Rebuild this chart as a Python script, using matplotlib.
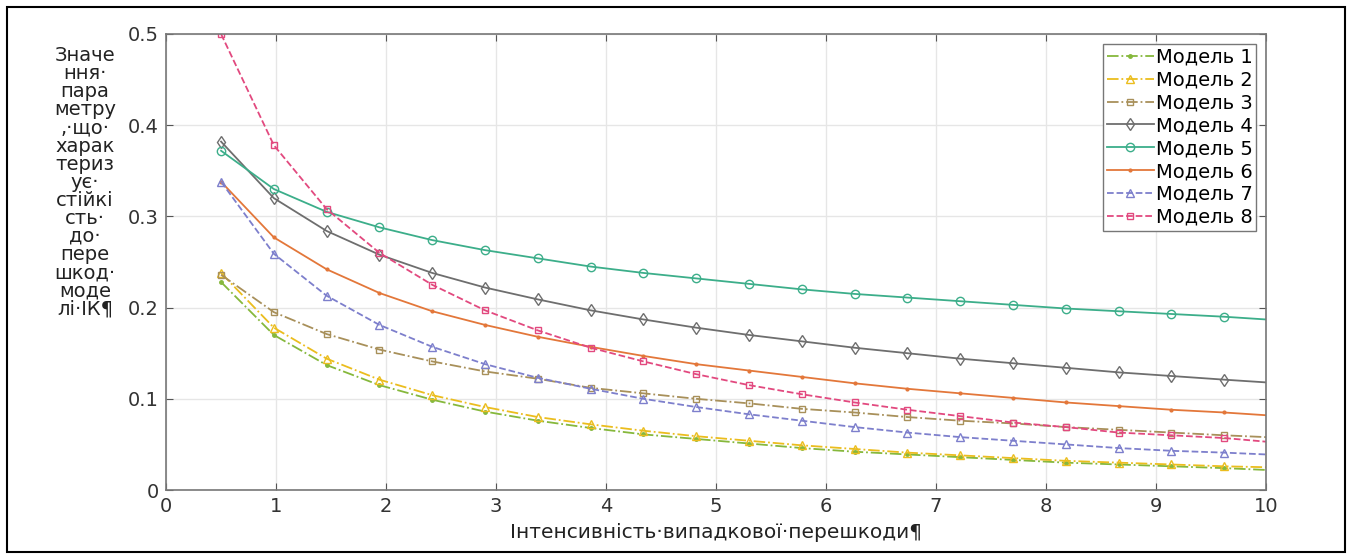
import numpy as np
import matplotlib
matplotlib.use("Agg")
import matplotlib.pyplot as plt
from matplotlib.patches import Rectangle

plt.rcParams['font.family'] = ['DejaVu Sans']

# x positions of the sampled points (markers at all but the last one)
x = [0.5, 0.98, 1.46, 1.94, 2.42, 2.9, 3.38, 3.86, 4.34, 4.82, 5.3,
     5.78, 6.26, 6.74, 7.22, 7.7, 8.18, 8.66, 9.14, 9.62, 10.0]

m1 = [0.228, 0.170, 0.137, 0.115, 0.099, 0.086, 0.076, 0.068, 0.061, 0.056, 0.051,
      0.046, 0.042, 0.039, 0.036, 0.033, 0.030, 0.028, 0.026, 0.024, 0.022]
m2 = [0.238, 0.178, 0.144, 0.121, 0.104, 0.091, 0.080, 0.072, 0.065, 0.059, 0.054,
      0.049, 0.045, 0.041, 0.038, 0.035, 0.032, 0.030, 0.028, 0.026, 0.025]
m3 = [0.236, 0.195, 0.171, 0.154, 0.141, 0.130, 0.122, 0.112, 0.106, 0.100, 0.095,
      0.089, 0.085, 0.080, 0.076, 0.073, 0.069, 0.066, 0.063, 0.060, 0.058]
m4 = [0.382, 0.320, 0.284, 0.258, 0.238, 0.222, 0.209, 0.197, 0.187, 0.178, 0.170,
      0.163, 0.156, 0.150, 0.144, 0.139, 0.134, 0.129, 0.125, 0.121, 0.118]
m5 = [0.372, 0.330, 0.305, 0.288, 0.274, 0.263, 0.254, 0.245, 0.238, 0.232, 0.226,
      0.220, 0.215, 0.211, 0.207, 0.203, 0.199, 0.196, 0.193, 0.190, 0.187]
m6 = [0.338, 0.277, 0.242, 0.216, 0.196, 0.181, 0.168, 0.157, 0.147, 0.138, 0.131,
      0.124, 0.117, 0.111, 0.106, 0.101, 0.096, 0.092, 0.088, 0.085, 0.082]
m7 = [0.338, 0.259, 0.213, 0.181, 0.157, 0.138, 0.123, 0.111, 0.100, 0.091, 0.083,
      0.076, 0.069, 0.063, 0.058, 0.054, 0.050, 0.046, 0.043, 0.041, 0.039]
m8 = [0.500, 0.378, 0.308, 0.260, 0.225, 0.197, 0.175, 0.156, 0.141, 0.127, 0.115,
      0.105, 0.096, 0.088, 0.081, 0.074, 0.069, 0.063, 0.060, 0.057, 0.053]

labels = ["Модель 1", "Модель 2", "Модель 3", "Модель 4",
          "Модель 5", "Модель 6", "Модель 7", "Модель 8"]

styles = [
    dict(color="#86b83c", ls="-.", marker=".", ms=5),
    dict(color="#ebbd1e", ls="-.", marker="^", ms=6, mfc="none"),
    dict(color="#a8905a", ls="-.", marker="s", ms=5, mfc="none"),
    dict(color="#6e6e6e", ls="-", marker="d", ms=6, mfc="none"),
    dict(color="#3cae8a", ls="-", marker="o", ms=6, mfc="none"),
    dict(color="#e3773a", ls="-", marker=".", ms=4),
    dict(color="#7d7fcc", ls="--", marker="^", ms=6, mfc="none"),
    dict(color="#e2497f", ls="--", marker="s", ms=5, mfc="none"),
]

fig = plt.figure(figsize=(13.49, 5.59), dpi=100)
ax = fig.add_axes([0.1231, 0.1234, 0.8154, 0.8158])

for y, lab, st in zip([m1, m2, m3, m4, m5, m6, m7, m8], labels, styles):
    ax.plot(x, y, label=lab, lw=1.3, markevery=list(range(len(x) - 1)), **st)

ax.set_xlim(0, 10)
ax.set_ylim(0, 0.5)
ax.set_xticks(range(0, 11))
ax.set_yticks([0, 0.1, 0.2, 0.3, 0.4, 0.5])
ax.set_yticklabels(["0", "0.1", "0.2", "0.3", "0.4", "0.5"])
ax.grid(True, color="#e6e6e6", lw=1)
ax.set_axisbelow(True)
ax.tick_params(direction="in", length=5, top=True, right=True, pad=5,
               labelsize=14, colors="#555555", labelcolor="#333333")
for s in ax.spines.values():
    s.set_color("#777777")
    s.set_linewidth(1.2)

ax.set_xlabel("Інтенсивність·випадкової·перешкоди¶", fontsize=14.5, labelpad=5,
              color="#222222")

ylab = "Значе\nння·\nпара\nметру\n,·що·\nхарак\nтериз\nує·\nстійкі\nсть·\nдо·\nпере\nшкод·\nмоде\nлі·ІК¶"
fig.text(85 / 1349, 1 - 46 / 559, ylab, ha="center", va="top", fontsize=14,
         linespacing=0.94, color="#222222")

leg = ax.legend(loc="upper right", fontsize=14, handlelength=2.4,
                handletextpad=0.1, labelspacing=0.2, borderpad=0.2,
                borderaxespad=0.5, fancybox=False, framealpha=1)
leg.get_frame().set_edgecolor("#777777")
leg.get_frame().set_linewidth(1.0)

fig.patches.append(Rectangle((7 / 1349, 7 / 559), 1338 / 1349, 545 / 559,
                             transform=fig.transFigure, fill=False,
                             edgecolor="black", lw=1.5))

fig.savefig("out.png", dpi=100)
